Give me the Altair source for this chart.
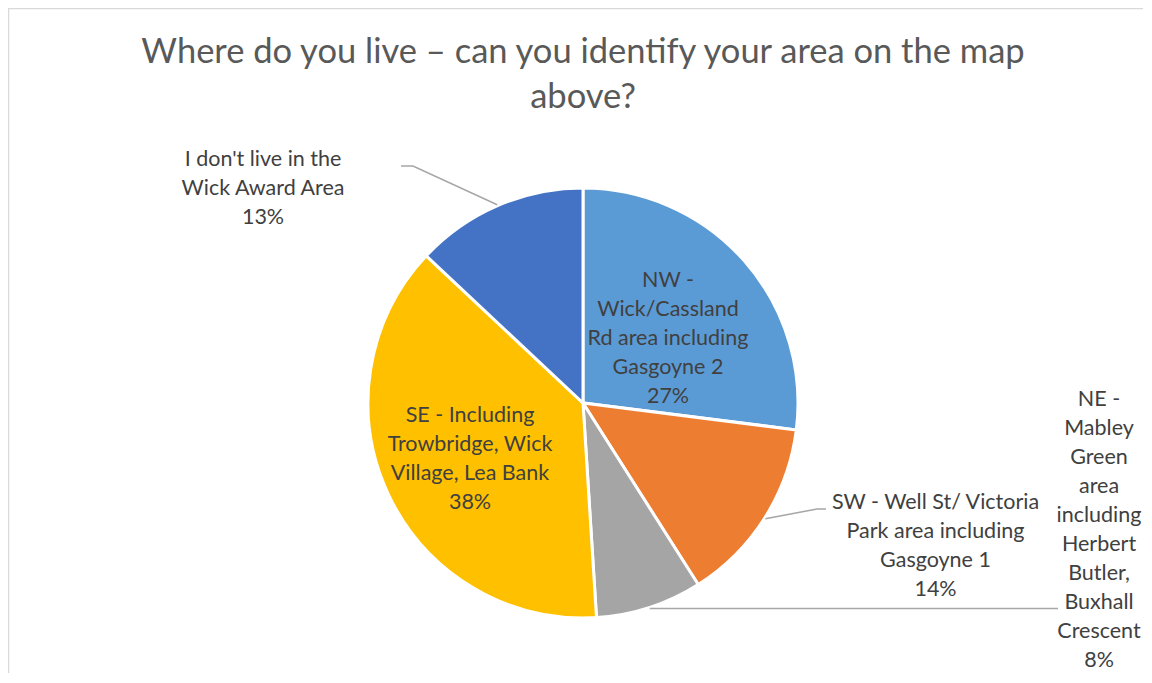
import math
import altair as alt
import pandas as pd

# ---- data ----
categories = [
    "NW - Wick/Cassland Rd area including Gasgoyne 2",
    "SW - Well St/ Victoria Park area including Gasgoyne 1",
    "NE - Mabley Green area including Herbert Butler, Buxhall Crescent",
    "SE - Including Trowbridge, Wick Village, Lea Bank",
    "I don't live in the Wick Award Area",
]
shares = [27, 14, 8, 38, 13]
colors = ["#5B9BD5", "#ED7D31", "#A5A5A5", "#FFC000", "#4472C4"]

label_lines = [
    ["NW -", "Wick/Cassland", "Rd area including", "Gasgoyne 2"],
    ["SW - Well St/ Victoria", "Park area including", "Gasgoyne 1"],
    ["NE -", "Mabley", "Green", "area", "including", "Herbert", "Butler,", "Buxhall", "Crescent"],
    ["SE - Including", "Trowbridge, Wick", "Village, Lea Bank"],
    ["I don't live in the", "Wick Award Area"],
]
title_lines = ["Where do you live \u2013 can you identify your area on the map", "above?"]

# ---- layout (annotation placement; x = centre, y = first line) ----
W, H = 1135, 665
CX, CY, R = 575, 395, 215
label_pos = [(660, 273), (927.5, 495), (1091, 392), (462, 408), (255, 152)]
leader_bends = {1: [(809, 501), (818, 501)], 2: [(1050, None)], 4: [(405, 158), (393, 158)]}

pie_df = pd.DataFrame({"category": categories, "share": shares, "idx": list(range(len(shares)))})

lab_df = pd.DataFrame({
    "text": ["\n".join(l + [f"{s}%"]) for l, s in zip(label_lines, shares)],
    "x": [p[0] for p in label_pos],
    "y": [p[1] for p in label_pos],
})

# leader lines start at the slice rim at mid-angle
rows = []
cum = 0
for i, s in enumerate(shares):
    mid = (cum + s / 2) / 100 * 2 * math.pi
    cum += s
    if i in leader_bends:
        sx = CX + (R + 1) * math.sin(mid)
        sy = CY - (R + 1) * math.cos(mid)
        pts = [(sx, sy)] + [(bx, sy if by is None else by) for bx, by in leader_bends[i]]
        for k, (px, py) in enumerate(pts):
            rows.append({"leader": i, "k": k, "x": px, "y": py})
lead_df = pd.DataFrame(rows)

pie = alt.Chart(pie_df).mark_arc(radius=R, stroke="white", strokeWidth=3).encode(
    theta=alt.Theta("share:Q", stack=True),
    order=alt.Order("idx:Q"),
    color=alt.Color("category:N", scale=alt.Scale(domain=categories, range=colors), legend=None),
    x=alt.value(CX),
    y=alt.value(CY),
)

leaders = alt.Chart(lead_df).mark_line(color="#A6A6A6", strokeWidth=1.5).encode(
    x=alt.X("x:Q", scale=None, axis=None),
    y=alt.Y("y:Q", scale=None, axis=None),
    detail="leader:N",
    order="k:Q",
)

labels = alt.Chart(lab_df).mark_text(
    font="Lato", fontSize=21.5, color="#404040", align="center", baseline="middle",
    lineBreak="\n", lineHeight=29,
).encode(
    x=alt.X("x:Q", scale=None, axis=None),
    y=alt.Y("y:Q", scale=None, axis=None),
    text="text:N",
)

title = alt.Chart(pd.DataFrame({"t": ["\n".join(title_lines)]})).mark_text(
    font="Lato", fontSize=34.5, color="#595959", align="center", baseline="middle",
    lineBreak="\n", lineHeight=45,
).encode(x=alt.value(575), y=alt.value(45), text="t:N")

frame_v = alt.Chart(pd.DataFrame({"a": [0]})).mark_rule(color="#D9D9D9", strokeWidth=1.5).encode(
    x=alt.value(0.5), y=alt.value(0), y2=alt.value(H))
frame_h = alt.Chart(pd.DataFrame({"a": [0]})).mark_rule(color="#D9D9D9", strokeWidth=1.5).encode(
    x=alt.value(0), x2=alt.value(W), y=alt.value(0.5))

chart = alt.layer(frame_v, frame_h, pie, leaders, labels, title).properties(
    width=W, height=H, autosize=alt.AutoSizeParams(type="none"), padding=0,
).configure_view(stroke="transparent", strokeWidth=0)

chart.save("out.html", embed_options={"renderer": "svg", "actions": False})
